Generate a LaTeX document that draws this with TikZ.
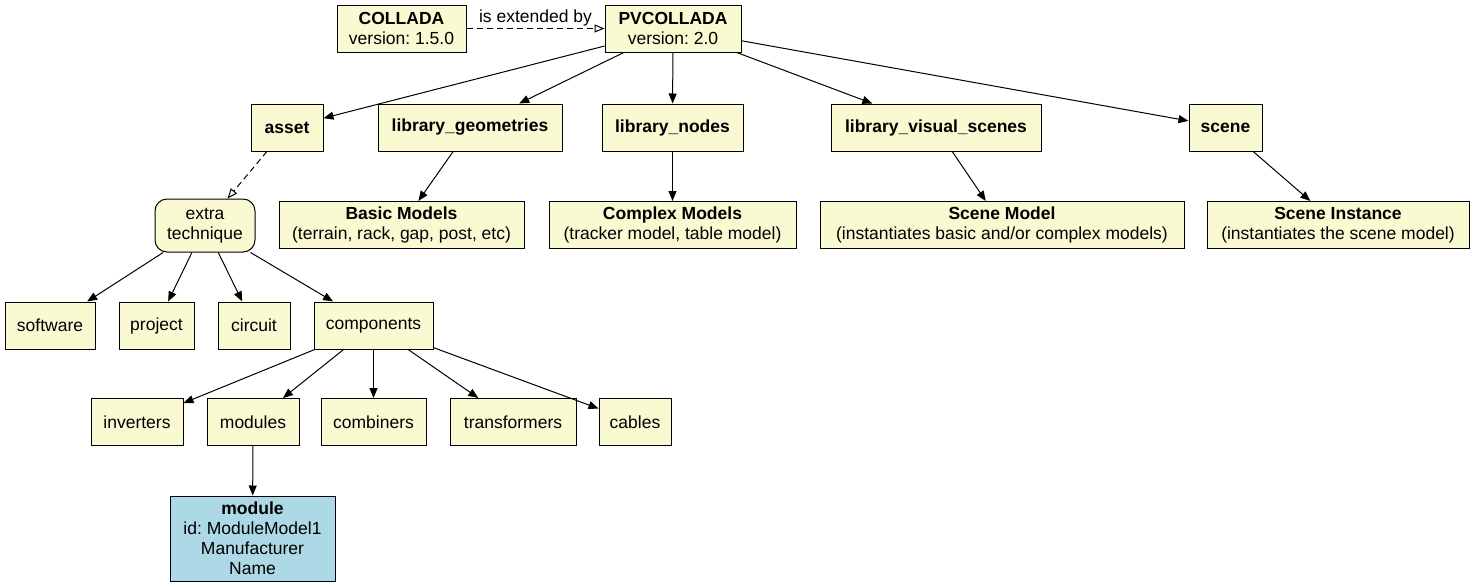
\documentclass[tikz,border=0pt]{standalone}
\usepackage{fontspec}
\setmainfont{Liberation Sans}
\definecolor{boxyellow}{RGB}{250, 250, 210}
\definecolor{moduleblue}{RGB}{173, 216, 230}
\usetikzlibrary{arrows.meta}
\frenchspacing

\begin{document}
\begin{tikzpicture}[x=1pt, y=-1pt,
  font=\fontsize{17.5}{20}\selectfont,
  box/.style={draw=black, fill=boxyellow, line width=1pt, minimum height=47pt, inner sep=0pt, align=center},
  rbox/.style={box, rounded corners=12pt},
  link/.style={-{Triangle[length=10pt, width=8pt]}, line width=1pt},
  extlink/.style={dash pattern=on 6pt off 4pt, -{Triangle[open, length=10pt, width=8pt]}, line width=1pt}]
  \useasboundingbox (0,0) rectangle (1476,587);

  % top level
  \node[box, minimum width=129pt] (collada) at (401.5,28.5) {\textbf{COLLADA}\\version: 1.5.0};
  \node[box, minimum width=136pt] (pvcollada) at (673,28.5) {\textbf{PVCOLLADA}\\version: 2.0};
  \draw[extlink] (collada) -- node[above, inner sep=2pt] {is extended by} (pvcollada);

  % libraries
  \node[box, minimum width=72pt] (asset) at (287,127.5) {\textbf{asset}};
  \node[box, minimum width=184pt] (libgeom) at (470,127.5) {\textbf{library\_geometries}};
  \node[box, minimum width=141pt] (libnodes) at (672.5,127.5) {\textbf{library\_nodes}};
  \node[box, minimum width=210pt] (libscenes) at (936,127.5) {\textbf{library\_visual\_scenes}};
  \node[box, minimum width=73pt] (scene) at (1225.5,127.5) {\textbf{scene}};
  \foreach \child in {asset, libgeom, libnodes, libscenes, scene}
    \draw[link] (pvcollada) -- (\child);

  % models
  \node[box, minimum width=245pt] (basic) at (401.5,225) {\textbf{Basic Models}\\(terrain, rack, gap, post, etc)};
  \node[box, minimum width=247pt] (complex) at (672.5,225) {\textbf{Complex Models}\\(tracker model, table model)};
  \node[box, minimum width=364pt] (scenemodel) at (1002,225) {\textbf{Scene Model}\\(instantiates basic and/or complex models)};
  \node[box, minimum width=262pt] (sceneinst) at (1338,225) {\textbf{Scene Instance}\\(instantiates the scene model)};
  \draw[link] (libgeom) -- (basic);
  \draw[link] (libnodes) -- (complex);
  \draw[link] (libscenes) -- (scenemodel);
  \draw[link] (scene) -- (sceneinst);

  % extra technique
  \node[rbox, minimum width=100pt, minimum height=53pt] (extra) at (205,225.5) {extra\\technique};
  \draw[extlink] (asset) -- (extra);

  \node[box, minimum width=90pt] (software) at (50,325.5) {software};
  \node[box, minimum width=75pt] (project) at (156.5,325.5) {project};
  \node[box, minimum width=72pt] (circuit) at (254,325.5) {circuit};
  \node[box, minimum width=119pt] (components) at (373.5,325.5) {components};
  \foreach \child in {software, project, circuit, components}
    \draw[link] (extra) -- (\child);

  % components
  \node[box, minimum width=92pt] (inverters) at (137,422) {inverters};
  \node[box, minimum width=92pt] (modules) at (253,422) {modules};
  \node[box, minimum width=105pt] (combiners) at (373.5,422) {combiners};
  \node[box, minimum width=126pt] (transformers) at (513,422) {transformers};
  \node[box, minimum width=72pt] (cables) at (635,422) {cables};
  \foreach \child in {inverters, modules, combiners, transformers, cables}
    \draw[link] (components) -- (\child);

  \node[box, fill=moduleblue, minimum width=165pt, minimum height=85pt] (module) at (252.5,538.5)
    {\textbf{module}\\id: ModuleModel1\\Manufacturer\\Name};
  \draw[link] (modules) -- (module);
\end{tikzpicture}
\end{document}
